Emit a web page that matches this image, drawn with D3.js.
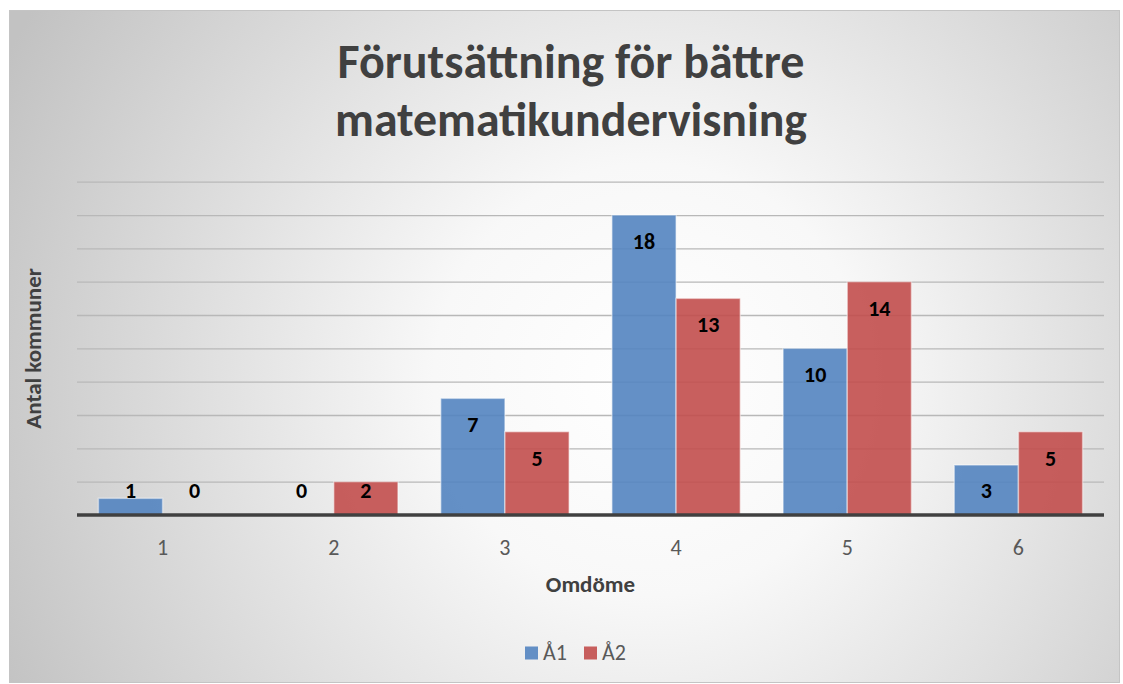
<!DOCTYPE html>
<html>
<head>
<meta charset="utf-8">
<script src="https://cdn.jsdelivr.net/npm/d3@7"></script>
<style>
  html, body { margin: 0; padding: 0; background: #fff; }
  svg { display: block; }
</style>
</head>
<body>
<svg id="chart" width="1123" height="684"></svg>
<script>
// data
const categories = ['1', '2', '3', '4', '5', '6'];
const seriesNames = ['Å1', 'Å2'];
const valuesA1 = [1, 0, 7, 18, 10, 3];
const valuesA2 = [0, 2, 5, 13, 14, 5];
const gridTicks = [2, 4, 6, 8, 10, 12, 14, 16, 18, 20];
const titleLines = ['Förutsättning för bättre', 'matematikundervisning'];

const colors = ['#5384C0', '#C24E4D'];
const font = 'Carlito, Lato, "Open Sans", sans-serif';

const svg = d3.select('#chart');
const plot = { left: 77, right: 1104, top: 181.7, bottom: 515 };

// shrink a text to a target width if the font runs wider than Calibri
const fitWidth = (sel, target) => {
  const len = sel.node().getComputedTextLength();
  if (len > target) {
    sel.attr('textLength', target).attr('lengthAdjust', 'spacingAndGlyphs');
  }
};

// background gradient
const defs = svg.append('defs');
const grad = defs.append('radialGradient')
  .attr('id', 'bgGrad')
  .attr('gradientUnits', 'userSpaceOnUse')
  .attr('cx', 650).attr('cy', 380).attr('r', 720);
grad.append('stop').attr('offset', '0%').attr('stop-color', '#ffffff');
grad.append('stop').attr('offset', '30%').attr('stop-color', '#f8f8f8');
grad.append('stop').attr('offset', '100%').attr('stop-color', '#c2c2c2');

svg.append('rect')
  .attr('x', 9.5).attr('y', 10.5)
  .attr('width', 1110).attr('height', 672)
  .attr('fill', 'url(#bgGrad)')
  .attr('stroke', '#c4c4c4')
  .attr('stroke-width', 1);

// title
const title = svg.append('g').attr('class', 'title');
titleLines.forEach((line, i) => {
  const t = title.append('text')
    .attr('x', 571)
    .attr('y', 78 + i * 58)
    .attr('text-anchor', 'middle')
    .style('font', `bold 48px ${font}`)
    .style('fill', '#404040')
    .text(line);
  fitWidth(t, i === 0 ? 468 : 472);
});

// scales
const x0 = d3.scaleBand()
  .domain(categories)
  .range([plot.left, plot.right])
  .paddingInner(0.25)
  .paddingOuter(0.125);
const x1 = d3.scaleBand()
  .domain(seriesNames)
  .range([0, x0.bandwidth()]);
const y = d3.scaleLinear()
  .domain([0, 20])
  .range([plot.bottom, plot.top]);

// gridlines
svg.append('g')
  .attr('class', 'grid')
  .attr('transform', `translate(${plot.left},0)`)
  .call(d3.axisLeft(y).tickValues(gridTicks).tickSize(-(plot.right - plot.left)).tickFormat(''))
  .call(g => g.select('.domain').remove())
  .call(g => g.selectAll('line').attr('stroke', '#b8b8b8').attr('stroke-width', 1.3));

// bars
const rows = categories.map((c, i) => ({ cat: c, vals: [valuesA1[i], valuesA2[i]] }));
const groups = svg.append('g').attr('class', 'bars')
  .selectAll('g')
  .data(rows)
  .join('g')
  .attr('transform', d => `translate(${x0(d.cat)},0)`);

const items = groups.selectAll('g')
  .data(d => d.vals.map((v, k) => ({ name: seriesNames[k], k, v })))
  .join('g');

items.filter(d => d.v > 0)
  .append('rect')
  .attr('x', d => x1(d.name))
  .attr('y', d => y(d.v))
  .attr('width', x1.bandwidth())
  .attr('height', d => y(0) - y(d.v))
  .attr('fill', d => colors[d.k])
  .attr('fill-opacity', 0.9)
  .attr('stroke', '#ffffff')
  .attr('stroke-opacity', 0.45)
  .attr('stroke-width', 1.5);

// x axis line
svg.append('line')
  .attr('x1', plot.left).attr('x2', plot.right)
  .attr('y1', y(0)).attr('y2', y(0))
  .attr('stroke', '#404040')
  .attr('stroke-width', 3.5);

// data labels (inside end, pushed up for short bars)
items.append('text')
  .attr('x', d => x1(d.name) + x1.bandwidth() / 2)
  .attr('y', d => Math.min(y(d.v) + 34, y(0) - 17))
  .attr('text-anchor', 'middle')
  .style('font', `bold 22px ${font}`)
  .style('fill', '#000')
  .text(d => d.v);

// category labels
svg.append('g')
  .attr('class', 'x-axis')
  .attr('transform', `translate(0,${y(0)})`)
  .call(d3.axisBottom(x0).tickSize(0).tickPadding(24))
  .call(g => g.select('.domain').remove())
  .call(g => g.selectAll('text').style('font', `22px ${font}`).style('fill', '#595959'));

// axis titles
svg.append('text')
  .attr('x', (plot.left + plot.right) / 2)
  .attr('y', 592)
  .attr('text-anchor', 'middle')
  .style('font', `bold 23px ${font}`)
  .style('fill', '#404040')
  .text('Omdöme');

svg.append('text')
  .attr('transform', `translate(41,${(plot.top + plot.bottom) / 2}) rotate(-90)`)
  .attr('text-anchor', 'middle')
  .style('font', `bold 23px ${font}`)
  .style('fill', '#404040')
  .text('Antal kommuner');

// legend
const legend = svg.append('g').attr('class', 'legend');
const legendX = [525, 584];
seriesNames.forEach((name, k) => {
  legend.append('rect')
    .attr('x', legendX[k]).attr('y', 646.5)
    .attr('width', 13).attr('height', 13)
    .attr('fill', colors[k])
    .attr('fill-opacity', 0.9);
  legend.append('text')
    .attr('x', legendX[k] + 18)
    .attr('y', 660)
    .style('font', `22px ${font}`)
    .style('fill', '#595959')
    .text(name);
});
</script>
</body>
</html>
